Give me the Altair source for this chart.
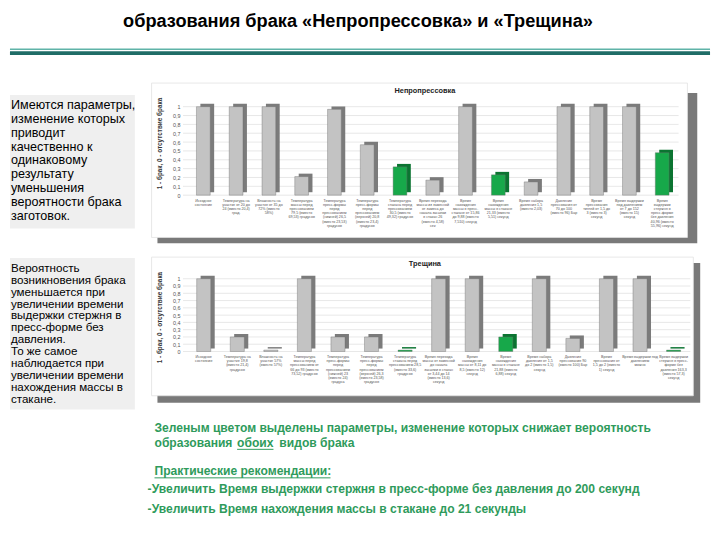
import altair as alt
import pandas as pd

FONT = "Liberation Sans, Arial, sans-serif"

TITLE = "образования брака «Непропрессовка» и «Трещина»"

BOX1 = ["Имеются параметры,", "изменение которых", "приводит", "качественно к",
        "одинаковому", "результату", "уменьшения", "вероятности брака", "заготовок."]
BOX2 = ["Вероятность", "возникновения брака", "уменьшается при", "увеличении времени",
        "выдержки стержня в", "пресс-форме без", "давления.", "То же самое",
        "наблюдается при", "увеличении времени", "нахождения массы в", "стакане."]

NOTE1 = "Зеленым цветом выделены параметры, изменение которых снижает вероятность"
NOTE2A = "образования"
NOTE2B = "обоих"
NOTE2C = "видов брака"
RECO_HEAD = "Практические рекомендации:"
RECO1 = "-Увеличить Время выдержки стержня в пресс-форме без давления до 200 секунд"
RECO2 = "-Увеличить Время нахождения массы в стакане до 21 секунды"

Y_TITLE = "1 - брак,  0 - отсутствие брака"
Y_TICKS = [0, 0.1, 0.2, 0.3, 0.4, 0.5, 0.6, 0.7, 0.8, 0.9, 1]

TITLE1 = "Непропрессовка"
CATS1 = [
    "Исходное|состояние",
    "Температура на|участке от 20 до|24 (вместо 20,4)|град.",
    "Влажность на|участке от 35 до|72% (вместо|58%)",
    "Температура|массы перед|прессованием|79,5 (вместо|69,53) градусов",
    "Температура|пресс-формы|перед|прессованием|(нижней) 26,5|(вместо 23,53)|градусов",
    "Температура|пресс-формы|перед|прессованием|(верхней) 20,8|(вместо 23,4)|градусов",
    "Температура|стакана перед|прессованием|30,5 (вместо|49,32) градусов",
    "Время перехода|массы из замесной|от замеса до|начала засыпки|в стакан 26|(вместо 4,58)|сек",
    "Время|нахождения|массы в пресс.|стакане от 15,86|до 9,88 (вместо|7,510) секунд",
    "Время|нахождения|массы в стакане|21,33 (вместо|5,51) секунд",
    "Время набора|давления 1,5|(вместо 2,03)",
    "Давление|прессования от|70 до 100|(вместо 96) Бар",
    "Время|прессования|тиглей от 1,5 до|3 (вместо 3)|секунд",
    "Время выдержки|под давлением|от 7 до 152|(вместо 15)|секунд",
    "Время|выдержки|стержня в|пресс-форме|без давления|40,96 (вместо|55,96) секунд",
]
VALS1 = [1, 1, 1, 0.21, 0.97, 0.57, 0.32, 0.17, 1, 0.23, 0.15, 1, 1, 1, 0.48]
HL1 = [0, 0, 0, 0, 0, 0, 1, 0, 0, 1, 0, 0, 0, 0, 1]

TITLE2 = "Трещина"
CATS2 = [
    "Исходное|состояние",
    "Температура на|участке 19,8|(вместо 21,4)|градусов",
    "Влажность на|участке 57%|(вместо 57%)",
    "Температура|массы перед|прессованием от|66 до 93 (вместо|73,52) градусов",
    "Температура|пресс-формы|перед|прессованием|(нижней) 23|(вместо 24)|градуса",
    "Температура|пресс-формы|перед|прессованием|(верхней) 26,3|(вместо 23,58)|градусов",
    "Температура|стакана перед|прессованием 28,5|(вместо 33,6)|градусов",
    "Время перехода|массы от замесной|до начала|засыпки в стакан|от 3,44 до 14|(вместо 13,6)|секунд",
    "Время|нахождения|массы от 8,11 до|8,5 (вместо 12)|секунд",
    "Время|нахождения|массы в стакане|21,88 (вместо|6,88) секунд",
    "Время набора|давления от 1,5|до 2 (вместо 1,5)|секунд",
    "Давление|прессования 90|(вместо 100) Бар",
    "Время|прессования от|1,5 до 2 (вместо|1) секунд",
    "Время выдержки под|давлением|можно",
    "Время выдержки|стержня в пресс-|форме без|давления 163,3|(вместо 57,3)|секунд",
]
VALS2 = [1, 0.2, 0.02, 1, 0.2, 0.2, 0.02, 1, 1, 0.2, 1, 0.18, 1, 1, 0.02]
HL2 = [0, 0, 0, 0, 0, 0, 1, 0, 0, 1, 0, 0, 0, 0, 1]

GREEN_TXT = "#2f9b5c"
ONE = pd.DataFrame({"k": [0]})


def text_layer(txt, x, y, size, weight="normal", color="black", align="left",
               baseline="middle", line_height=None):
    props = dict(align=align, baseline=baseline, fontSize=size, fontWeight=weight,
                 color=color, font=FONT)
    if line_height is not None:
        props["lineBreak"] = "\n"
        props["lineHeight"] = line_height
    return alt.Chart(pd.DataFrame({"t": [txt]})).mark_text(**props).encode(
        x=alt.value(x), y=alt.value(y), text="t:N")


def rect_layer(x1, x2, y1, y2, **props):
    return alt.Chart(ONE).mark_rect(**props).encode(
        x=alt.value(x1), x2=alt.value(x2), y=alt.value(y1), y2=alt.value(y2))


def rule_layer(x1, x2, y, color, width):
    return alt.Chart(ONE).mark_rule(color=color, strokeWidth=width).encode(
        x=alt.value(x1), x2=alt.value(x2), y=alt.value(y))


def bar_panel(cats, vals, hl, title, W, H, frame, shadow, ytitle_y, title_y):
    df = pd.DataFrame({"cat": cats, "val": vals, "hl": hl})
    xs = alt.X("cat:N", sort=cats, title=None,
               scale=alt.Scale(paddingInner=0.58, paddingOuter=0.29),
               axis=alt.Axis(labelExpr="split(datum.label, '|')", labelAngle=0,
                             labelFontSize=3.7, labelLineHeight=4.3, labelColor="#555555",
                             labelPadding=3, labelBaseline="top", labelAlign="center",
                             labelLimit=0, labelOverlap=False, domain=False, ticks=False,
                             labelFont=FONT, zindex=2))
    ys = alt.Y("val:Q", scale=alt.Scale(domain=[0, 1], nice=False),
               axis=alt.Axis(values=Y_TICKS, grid=False, domain=False, ticks=False,
                             labelExpr="replace(format(datum.value, '~g'), '.', ',')",
                             labelFontSize=5.5, labelColor="#555555", labelPadding=7,
                             labelFont=FONT, zindex=2,
                             title=Y_TITLE, titleFontSize=6.5, titleFontWeight="bold",
                             titleColor="#333333", titleX=-28, titleY=ytitle_y,
                             titleAngle=270, titleAlign="center", titleBaseline="middle",
                             titleFont=FONT))
    shadow_l = rect_layer(*shadow, color="#6a6a6a", opacity=0.9)
    frame_l = rect_layer(*frame, fill="white", stroke="#e2e2e2", strokeWidth=0.8)
    grid_l = alt.Chart(pd.DataFrame({"val": Y_TICKS})).mark_rule(
        color="#dddddd", strokeWidth=0.7).encode(y=ys, x=alt.value(-4), x2=alt.value(W))
    back = alt.Chart(df).mark_bar(xOffset=4, x2Offset=4, yOffset=-3, y2Offset=-3).encode(
        x=xs, y=ys,
        color=alt.condition(alt.datum.hl == 1, alt.value("#0b7431"), alt.value("#7b7b7b")))
    front = alt.Chart(df).mark_bar(stroke="#6d6d6d", strokeWidth=0.4).encode(
        x=xs, y=ys,
        color=alt.condition(alt.datum.hl == 1, alt.value("#17a84a"), alt.value("#c3c3c3")))
    title_l = text_layer(title, 242, title_y, 7.5, weight="bold", color="#222222",
                         align="center")
    return alt.layer(shadow_l, frame_l, grid_l, back, front, title_l).properties(
        width=W, height=H)


# header (page y 8..104)
header = alt.layer(
    text_layer(TITLE, 354, 15, 18.5, weight="bold", align="center", baseline="alphabetic"),
    rule_layer(0, 712, 37.5, "#5fb3a8", 1.5),
    rule_layer(0, 712, 41.5, "#1f6d67", 4),
).properties(width=712, height=96)

# left column (origin page 8,104)
left = alt.layer(
    rect_layer(0, 127, -12, 124, color="#efefef"),
    text_layer("\n".join(BOX1), 1, -8, 12.8, baseline="top", line_height=14.2),
    rect_layer(0, 127, 154, 308, color="#efefef"),
    text_layer("\n".join(BOX2), 1, 159, 11.8, baseline="top", line_height=12.1),
).properties(width=127, height=10)

c1 = bar_panel(CATS1, VALS1, HL1, TITLE1, 500, 90,
               frame=(-36, 509, -24, 133), shadow=(-30, 519, -14, 139),
               ytitle_y=37, title_y=-16)
c2 = bar_panel(CATS2, VALS2, HL2, TITLE2, 512, 74,
               frame=(-36, 515, -22, 119), shadow=(-30, 522, -16, 126),
               ytitle_y=39, title_y=-15)

# bottom notes (origin page 188,438)
FS = 12.3
bottom = alt.layer(
    text_layer(NOTE1, -33, -7, FS, weight="bold", color=GREEN_TXT),
    text_layer(NOTE2A, -33, 8, FS, weight="bold", color=GREEN_TXT),
    text_layer(NOTE2B, 51, 8, FS, weight="bold", color=GREEN_TXT),
    rule_layer(51, 88, 14.5, GREEN_TXT, 1),
    text_layer(NOTE2C, 94, 8, FS, weight="bold", color=GREEN_TXT),
    text_layer(RECO_HEAD, -33, 37, FS, weight="bold", color=GREEN_TXT),
    rule_layer(-33, 146, 43.5, GREEN_TXT, 1),
    text_layer(RECO1, -40, 55, FS, weight="bold", color=GREEN_TXT),
    text_layer(RECO2, -40, 75, FS, weight="bold", color=GREEN_TXT),
).properties(width=500, height=10)

right = alt.VConcatChart(vconcat=[c1, c2, bottom], spacing=85, bounds="flush")
body = alt.HConcatChart(hconcat=[left, right], spacing=53, bounds="flush")

chart = alt.VConcatChart(vconcat=[header, body], spacing=0, bounds="flush",
                         padding=0, background="white").configure_view(stroke=None)

chart.save("out.html", embed_options={"renderer": "svg", "actions": False})
